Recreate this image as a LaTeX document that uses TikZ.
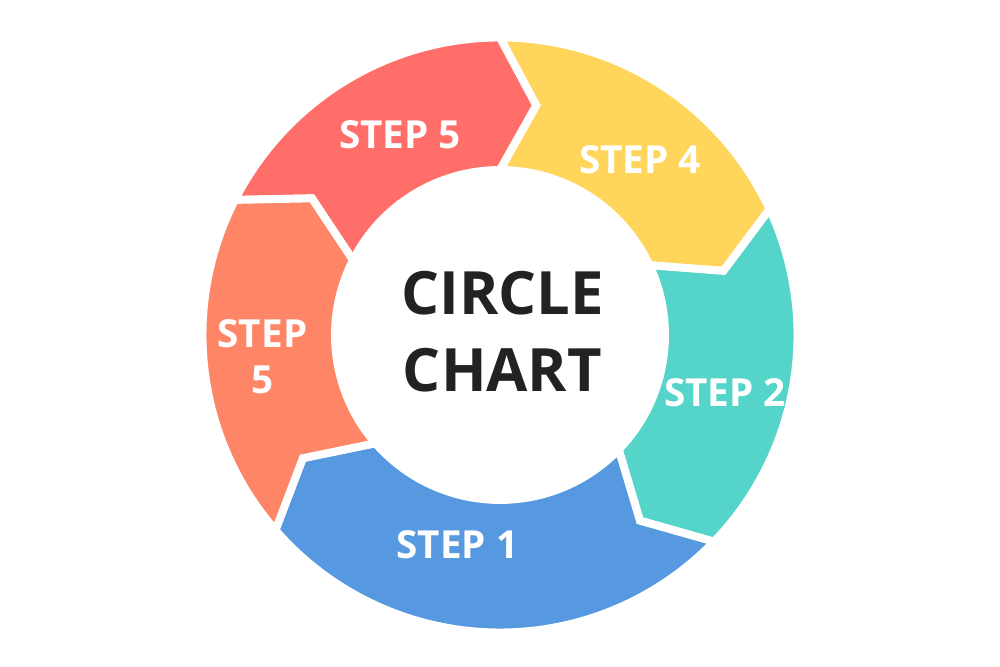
\documentclass[tikz,border=0pt]{standalone}
\usepackage{fontspec}
\setmainfont{Open Sans}
\definecolor{cred}{HTML}{FF6E69}
\definecolor{cyel}{HTML}{FFD55B}
\definecolor{cteal}{HTML}{55D5C9}
\definecolor{cblue}{HTML}{5699E0}
\definecolor{corg}{HTML}{FF8567}
\definecolor{cdark}{HTML}{222222}
\newcommand\ringseg[3]{%
  \fill[#3,draw=white,line width=4.5pt,line join=miter]
    (#1:5.95) arc[start angle=#1,end angle=#2,radius=5.95]
    -- ({#2-9}:4.65) -- (#2:3.3)
    arc[start angle=#2,end angle=#1,radius=3.3]
    -- ({#1-9}:4.65) -- cycle;}
\tikzset{lbl/.style={text=white,font=\bfseries\fontsize{22}{26}\selectfont,align=center}}
\begin{document}
\begin{tikzpicture}
\useasboundingbox (0,0) rectangle (20,13.34);
\begin{scope}[shift={(10,6.64)}]
\ringseg{153}{90}{cred}
\ringseg{90}{25}{cyel}
\ringseg{25}{-44}{cteal}
\ringseg{-44}{-139}{cblue}
\ringseg{221}{153}{corg}
\end{scope}
\node[lbl] (s5a) at (8.0,10.65) {STEP 5};
\node[lbl] (s4) at (12.8,10.15) {STEP 4};
\node[lbl] (s2) at (14.5,5.48) {STEP 2};
\node[lbl] (s1) at (9.15,2.44) {STEP 1};
\node[lbl] (s5b) at (5.25,6.2) {STEP\\5};
\node[text=cdark,font=\bfseries\fontsize{34}{44}\selectfont,align=center] (c) at (10.05,6.7) {CIRCLE\\CHART};
\end{tikzpicture}
\end{document}
